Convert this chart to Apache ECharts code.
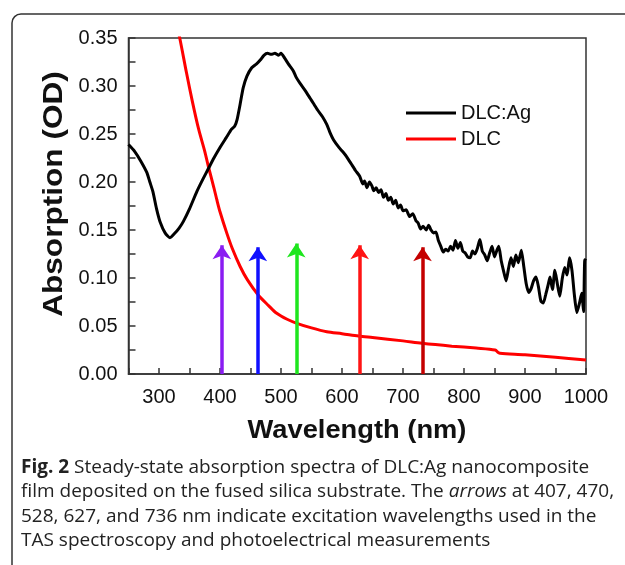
<!DOCTYPE html>
<html>
<head>
<meta charset="utf-8">
<script src="https://cdn.jsdelivr.net/npm/echarts@6/dist/echarts.min.js"></script>
<style>
  html, body { margin: 0; padding: 0; background: #fff; }
  #main { width: 625px; height: 565px; }
</style>
</head>
<body>
<div id="main"></div>
<script>
// DLC:Ag spectrum (wavelength nm, absorbance OD)
var dlcAgWave = [250,260,270,280,285,290,296,302,310,318,325,333,340,350,362,372,381,390,400,410,
  419,424,428,433,438,444,452,460,466,472,478,484,490,496,500,506,512,520,525,531,540,548,553,560,
  568,575,580,586,595,602,608,615,622,629,634,637,641,645,649,652,656,660,664,668,672,676,680,684,
  688,692,696,700,705,711,716,721,725,729,733,738,742,746,750,754,758,762,766,770,774,778,782,786,
  790,794,798,802,806,810,814,818,822,826,830,834,838,842,846,850,854,857,861,865,869,873,877,881,
  885,889,894,898,902,906,910,914,918,922,926,930,934,938,941,945,949,953,957,961,965,969,973,977,
  981,985,989,993,996,998,1000];
var dlcAgAbs = [0.239,0.232,0.222,0.210,0.200,0.190,0.172,0.158,0.147,0.142,0.146,0.152,0.159,0.172,
  0.190,0.203,0.214,0.225,0.236,0.246,0.255,0.258,0.265,0.281,0.298,0.310,0.319,0.323,0.327,0.332,
  0.334,0.333,0.334,0.332,0.334,0.329,0.323,0.316,0.309,0.303,0.295,0.287,0.282,0.275,0.268,0.260,
  0.252,0.244,0.236,0.231,0.226,0.219,0.212,0.206,0.198,0.201,0.194,0.200,0.196,0.191,0.194,0.189,
  0.192,0.184,0.188,0.181,0.184,0.177,0.181,0.173,0.176,0.170,0.171,0.164,0.167,0.160,0.157,0.151,
  0.154,0.150,0.155,0.150,0.147,0.148,0.139,0.133,0.127,0.130,0.128,0.133,0.129,0.139,0.131,0.137,
  0.128,0.126,0.122,0.121,0.128,0.125,0.131,0.140,0.128,0.124,0.118,0.126,0.133,0.122,0.129,0.133,
  0.118,0.107,0.097,0.110,0.121,0.112,0.124,0.116,0.129,0.112,0.094,0.085,0.089,0.097,0.101,0.091,
  0.076,0.074,0.083,0.093,0.101,0.088,0.108,0.094,0.081,0.099,0.111,0.103,0.121,0.108,0.082,0.064,
  0.073,0.084,0.065,0.119,0.118];

// DLC spectrum
var dlcWave = [330,334,345,355,365,375,381,390,395,400,411,420,433,445,463,480,493,510,526,550,
  575,600,627,650,700,731,780,820,851,856,859,900,950,1000];
var dlcAbs = [0.360,0.350,0.314,0.283,0.255,0.232,0.216,0.194,0.181,0.169,0.147,0.131,0.112,0.098,
  0.082,0.071,0.0632,0.057,0.0528,0.048,0.044,0.042,0.0396,0.038,0.0345,0.032,0.029,0.027,0.025,
  0.0225,0.0215,0.020,0.0175,0.0145];

// excitation arrows
var arrowWave = [403, 462, 525, 629, 732];
var arrowTop = [0.134, 0.132, 0.136, 0.134, 0.132];
var arrowColors = ['#8a1cf2', '#1010ff', '#1ee61e', '#ff1414', '#c40000'];

var xTicks = [300, 400, 500, 600, 700, 800, 900, 1000];

var chart = echarts.init(document.getElementById('main'));

function pairs(xs, ys) {
  return xs.map(function (x, i) { return [x, ys[i]]; });
}

var series = [
  {
    name: 'DLC:Ag', type: 'line', data: pairs(dlcAgWave, dlcAgAbs),
    symbol: 'none', smooth: 0.2, lineStyle: { color: '#000', width: 3 }, itemStyle: { color: '#000' }, z: 3
  },
  {
    name: 'DLC', type: 'line', data: pairs(dlcWave, dlcAbs),
    symbol: 'none', smooth: 0.3, lineStyle: { color: '#ff0000', width: 3 }, itemStyle: { color: '#ff0000' }, z: 2
  }
];
arrowWave.forEach(function (w, i) {
  series.push({
    type: 'lines', coordinateSystem: 'cartesian2d', z: 4,
    symbol: ['none', 'arrow'], symbolSize: [0, 14],
    lineStyle: { color: arrowColors[i], width: 3.5, opacity: 1 },
    itemStyle: { color: arrowColors[i] },
    data: [{ coords: [[w, 0], [w, arrowTop[i]]] }]
  });
});

var option = {
  animation: false,
  backgroundColor: '#fff',
  textStyle: { fontFamily: 'Liberation Sans' },
  grid: { left: 128.5, top: 38, right: 39, bottom: 191, show: true, borderColor: '#333', borderWidth: 1.5 },
  legend: {
    orient: 'vertical', left: 401, top: 98,
    itemWidth: 50, itemHeight: 3, itemGap: 6,
    textStyle: { fontSize: 20, color: '#111', lineHeight: 20 },
    data: [
      { name: 'DLC:Ag', icon: 'rect', itemStyle: { color: '#000' } },
      { name: 'DLC', icon: 'rect', itemStyle: { color: '#ff0000' } }
    ]
  },
  xAxis: {
    type: 'value', min: 250, max: 1000, interval: 50,
    axisLine: { lineStyle: { color: '#333', width: 1.5 } },
    axisTick: { inside: true, length: 6, lineStyle: { color: '#333', width: 1.5 } },
    splitLine: { show: false },
    axisLabel: {
      fontSize: 20, color: '#111', margin: 13,
      formatter: function (v) { return xTicks.indexOf(v) >= 0 ? String(v) : ''; }
    }
  },
  yAxis: {
    type: 'value', min: 0, max: 0.35, interval: 0.05,
    axisLine: { show: true, lineStyle: { color: '#333', width: 1.5 } },
    axisTick: { show: true, inside: true, length: 7, lineStyle: { color: '#333', width: 1.5 } },
    minorTick: { show: true, splitNumber: 2, length: 7, lineStyle: { color: '#333', width: 1.5 } },
    splitLine: { show: false },
    axisLabel: {
      fontSize: 20, color: '#111', margin: 11,
      formatter: function (v) { return v.toFixed(2); }
    }
  },
  graphic: [
    {
      type: 'rect', silent: true, z: 0,
      shape: { x: 12, y: 14, width: 700, height: 700, r: 9 },
      style: { fill: 'none', stroke: '#333', lineWidth: 1.5 }
    },
    {
      type: 'text', x: 357, y: 431, scaleX: 1.05,
      style: {
        text: 'Wavelength (nm)', font: 'bold 26px "Liberation Sans"', fill: '#111',
        align: 'center', verticalAlign: 'middle'
      }
    },
    {
      type: 'text', x: 55, y: 194, rotation: Math.PI / 2, scaleX: 1.17,
      style: {
        text: 'Absorption (OD)', font: 'bold 27px "Liberation Sans"', fill: '#111',
        align: 'center', verticalAlign: 'middle'
      }
    },
    {
      type: 'text', x: 21, y: 455,
      style: {
        text: '{b|Fig. 2} Steady-state absorption spectra of DLC:Ag nanocomposite\n' +
          'film deposited on the fused silica substrate. The {i|arrows} at 407, 470,\n' +
          '528, 627, and 736 nm indicate excitation wavelengths used in the\n' +
          'TAS spectroscopy and photoelectrical measurements',
        font: '19px "Open Sans"', fill: '#222', lineHeight: 24.5,
        rich: {
          b: { font: 'bold 19px "Open Sans"', fill: '#222', lineHeight: 24.5 },
          i: { font: 'italic 19px "Open Sans"', fill: '#222', lineHeight: 24.5 }
        }
      }
    }
  ],
  series: series
};

chart.setOption(option);
</script>
</body>
</html>
